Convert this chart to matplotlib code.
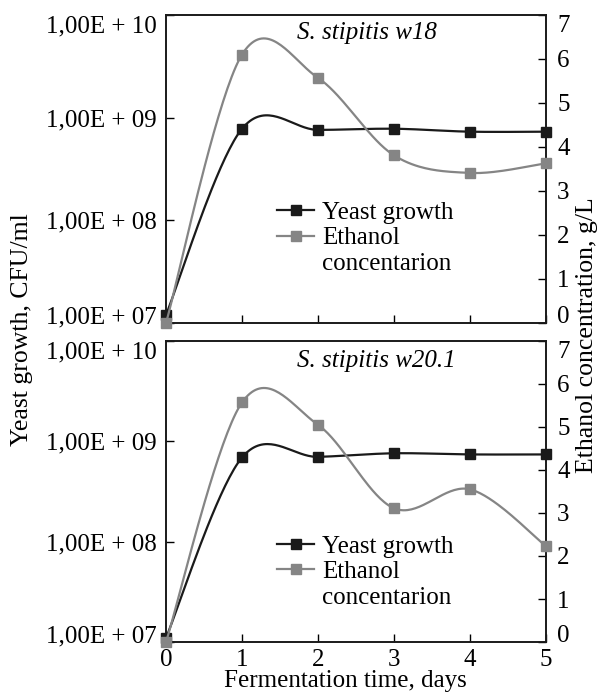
import numpy as np
import matplotlib
matplotlib.use("Agg")
from matplotlib import pyplot as plt
from matplotlib.lines import Line2D

plt.rcParams['font.family'] = ['Liberation Serif', 'DejaVu Serif']
plt.rcParams['font.size'] = 18

# data
days = [0, 1, 2, 3, 4, 5]
yeast_w18 = [1.2e7, 7.8e8, 7.6e8, 7.8e8, 7.3e8, 7.3e8]
ethanol_w18 = [0.0, 6.1, 5.57, 3.81, 3.41, 3.63]
yeast_w201 = [1.1e7, 6.9e8, 7.0e8, 7.6e8, 7.4e8, 7.4e8]
ethanol_w201 = [0.0, 5.57, 5.05, 3.11, 3.55, 2.23]

titles = ['S. stipitis w18', 'S. stipitis w20.1']
yticks_left = [1e7, 1e8, 1e9, 1e10]
ylabels_left = ['1,00E + 07', '1,00E + 08', '1,00E + 09', '1,00E + 10']
yticks_right = [0, 1, 2, 3, 4, 5, 6, 7]

black = '#1a1a1a'
gray = '#858585'


def smooth(x, y, n=40):
    # excel-like smoothed line (bezier through the points)
    x = np.asarray(x, float)
    y = np.asarray(y, float)
    px, py = [], []
    m = len(x)
    for i in range(m - 1):
        i0 = max(i - 1, 0)
        i3 = min(i + 2, m - 1)
        c1x = x[i] + (x[i + 1] - x[i0]) / 6
        c1y = y[i] + (y[i + 1] - y[i0]) / 6
        c2x = x[i + 1] - (x[i3] - x[i]) / 6
        c2y = y[i + 1] - (y[i3] - y[i]) / 6
        t = np.linspace(0, 1, n)
        bx = (1-t)**3*x[i] + 3*(1-t)**2*t*c1x + 3*(1-t)*t**2*c2x + t**3*x[i+1]
        by = (1-t)**3*y[i] + 3*(1-t)**2*t*c1y + 3*(1-t)*t**2*c2y + t**3*y[i+1]
        px.extend(bx)
        py.extend(by)
    return np.array(px), np.array(py)


fig = plt.figure(figsize=(6, 6.97), dpi=100)
ax1 = fig.add_axes([0.2767, 0.5366, 0.6333, 0.4419])
ax2 = fig.add_axes([0.2767, 0.0789, 0.6333, 0.4319])

# axes, yeast, ethanol, legend anchor, title y
panels = [(ax1, yeast_w18, ethanol_w18, 0.292, 0.395, 0.942),
          (ax2, yeast_w201, ethanol_w201, 0.292, 0.355, 0.934)]

for k, (ax, yeast, eth, lx, ly, ty) in enumerate(panels):
    axr = ax.twinx()
    ax.set_yscale('log')
    ax.set_ylim(1e7, 1e10)
    ax.set_xlim(0, 5)
    axr.set_ylim(0, 7)

    sx, sy = smooth(days, np.log10(yeast))
    ax.plot(sx, 10**sy, color=black, lw=1.6, clip_on=False, zorder=3)
    ax.plot(days, yeast, 's', color=black, ms=7, clip_on=False, zorder=4)
    sx, sy = smooth(days, eth)
    axr.plot(sx, sy, color=gray, lw=1.6, clip_on=False, zorder=3)
    axr.plot(days, eth, 's', color=gray, ms=7, clip_on=False, zorder=4)

    ax.set_yticks(yticks_left)
    ax.set_yticklabels(ylabels_left)
    ax.yaxis.set_minor_locator(matplotlib.ticker.NullLocator())
    axr.set_yticks(yticks_right)
    ax.set_xticks(days)
    if k == 0:
        ax.set_xticklabels([])

    ax.tick_params(direction='in', length=6, width=1, pad=7)
    ax.tick_params(axis='x', pad=5)
    axr.tick_params(direction='in', length=6, width=1, pad=8)
    for a in (ax, axr):
        for s in a.spines.values():
            s.set_linewidth(1.2)
            s.set_color(black)

    # end labels sit inside the axis range, as in the original
    for labs in (ax.get_yticklabels(), axr.get_yticklabels()):
        labs[0].set_va('baseline')
        labs[-1].set_va('top')

    ax.text(0.345, ty, titles[k], transform=ax.transAxes, ha='left', va='center',
            style='italic', fontsize=18)

    h1 = Line2D([], [], color=black, lw=1.6, marker='s', ms=7)
    h2 = Line2D([], [], color=gray, lw=1.6, marker='s', ms=7)
    h3 = Line2D([], [], color='none')
    axr.legend([h1, h2, h3], ['Yeast growth', 'Ethanol', 'concentarion'],
               loc='upper left', bbox_to_anchor=(lx, ly), frameon=False,
               borderpad=0, borderaxespad=0, handlelength=1.5, handletextpad=0.3,
               labelspacing=0.12, fontsize=18)

fig.text(0.037, 0.527, 'Yeast growth, CFU/ml', rotation=90, ha='center', va='center',
         fontsize=18.5)
fig.text(0.978, 0.519, 'Ethanol concentration, g/L', rotation=90, ha='center',
         va='center', fontsize=18.5)
fig.text(0.575, 0.0143, 'Fermentation time, days', ha='center', va='baseline',
         fontsize=18)

fig.savefig('out.png', dpi=100)
